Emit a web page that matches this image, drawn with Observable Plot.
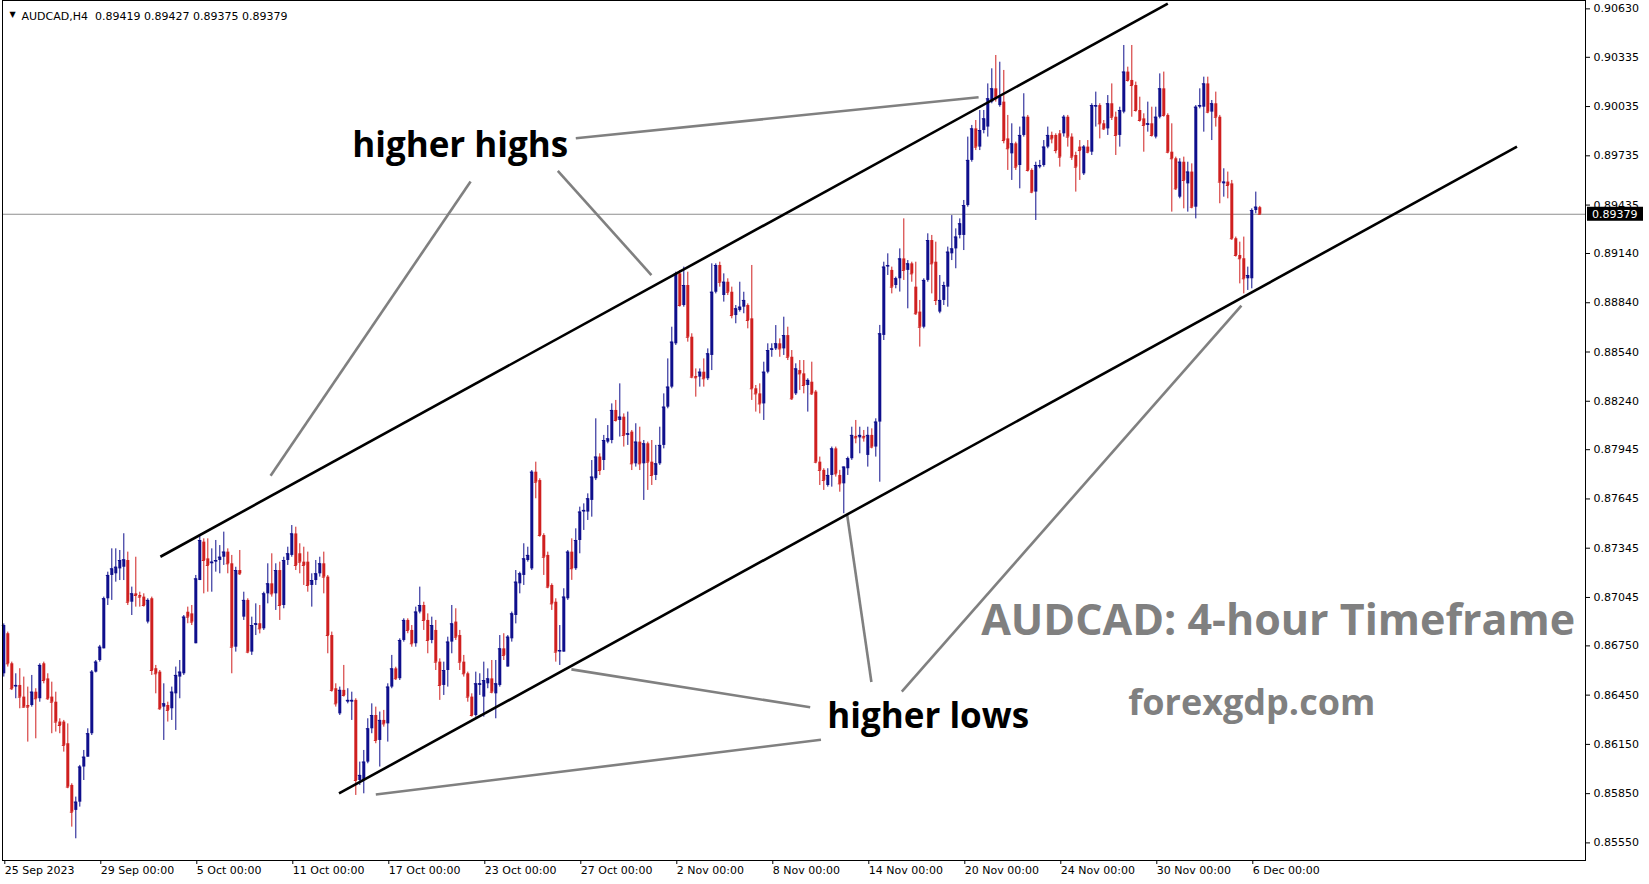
<!DOCTYPE html>
<html><head><meta charset="utf-8">
<script src="https://cdn.jsdelivr.net/npm/d3@7"></script>
<script src="https://cdn.jsdelivr.net/npm/@observablehq/plot@0.6"></script>
<style>html,body{margin:0;padding:0;background:#fff;overflow:hidden}</style>
</head><body><div id="chart"></div>
<script>
// ---- data: AUDCAD H4 candles (index 0 = 25 Sep 2023 00:00) ----
const openP = [
.86580,.86824,.86641,.86499,.86509,.86438,.86387,.86387,.86468,.86428,
.86641,.86549,.86438,.86407,.86286,.86286,.86154,.85900,.85748,.85798,
.86012,.86072,.86215,.86590,.86661,.86732,.87037,.87179,.87189,.87219,
.87229,.87270,.87016,.87067,.87057,.87047,.86895,.87037,.86611,.86590,
.86377,.86387,.86367,.86458,.86560,.86580,.86955,.86945,.86763,.87148,
.87382,.87280,.87250,.87260,.87270,.87290,.87321,.87250,.86742,.87209,
.86925,.87027,.86712,.86874,.86885,.86854,.87067,.87128,.87067,.87209,
.86996,.87270,.87301,.87432,.87311,.87260,.87260,.87118,.87148,.87189,
.87250,.87169,.86813,.86489,.86336,.86479,.86407,.86407,.86418,.85930,
.85930,.86042,.86245,.86326,.86174,.86296,.86275,.86499,.86610,.86550,
.86783,.86905,.86844,.86763,.86956,.86996,.86905,.86783,.86844,.86651,
.86509,.86600,.86773,.86895,.86813,.86651,.86580,.86438,.86326,.86509,
.86438,.86519,.86549,.86458,.86509,.86732,.86621,.86793,.86935,.87128,
.87179,.87270,.87219,.87808,.87757,.87422,.87301,.87118,.87016,.86712,
.86712,.87037,.87321,.87220,.87392,.87565,.87565,.87636,.87768,.87900,
.87879,.87991,.88001,.88184,.88123,.88143,.88032,.88052,.87859,.87991,
.87859,.87981,.87869,.87788,.87859,.87971,.88204,.88326,.88590,.89016,
.88823,.88945,.88630,.88391,.88387,.88417,.88377,.88519,.88904,.89067,
.88884,.88965,.88904,.88762,.88793,.88813,.88823,.88742,.88316,.88285,
.88224,.88417,.88549,.88559,.88590,.88559,.88640,.88508,.88285,.88427,
.88407,.88336,.88356,.88296,.87869,.87819,.87727,.87788,.87950,.87788,
.87737,.87829,.87890,.88026,.88017,.88026,.87910,.88032,.87961,.88113,
.88641,.89057,.89037,.88945,.88986,.89107,.89037,.89077,.88935,.88783,
.88691,.88976,.89219,.89087,.88783,.88854,.88935,.89138,.89168,.89250,
.89250,.89432,.89707,.89899,.89788,.89889,.89910,.90062,.90143,.90041,
.90062,.89838,.89747,.89808,.89676,.89859,.89970,.89646,.89514,.89666,
.89676,.89788,.89859,.89859,.89869,.89869,.89970,.89849,.89737,.89788,
.89625,.89788,.89757,.90031,.90041,.89930,.89899,.90052,.89970,.89859,
.90001,.90245,.90194,.90163,.90011,.89960,.89920,.89930,.89849,.89970,
.90143,.89981,.89757,.89717,.89483,.89696,.89564,.89636,.89422,.90031,
.90031,.90173,.90001,.90052,.89970,.89564,.89575,.89564,.89230,.89128,
.89108,.88986,.88986,.89402,.89419];
const highP = [
.86884,.86834,.86651,.86580,.86611,.86560,.86499,.86570,.86489,.86641,
.86651,.86580,.86529,.86468,.86306,.86296,.86275,.85910,.85829,.86022,
.86113,.86245,.86600,.86661,.86753,.87047,.87199,.87341,.87341,.87331,
.87433,.87321,.87108,.87290,.87077,.87067,.87037,.87047,.86631,.86600,
.86519,.86407,.86499,.86621,.86661,.86935,.86986,.86996,.87179,.87422,
.87402,.87402,.87341,.87392,.87361,.87443,.87341,.87301,.87229,.87331,
.87077,.87037,.86925,.87006,.86996,.87077,.87250,.87311,.87250,.87260,
.87290,.87351,.87483,.87473,.87372,.87351,.87321,.87189,.87270,.87290,
.87321,.87179,.86834,.86519,.86499,.86631,.86489,.86468,.86428,.86042,
.86113,.86306,.86397,.86377,.86347,.86357,.86519,.86692,.86620,.86793,
.86915,.86915,.86874,.86986,.87108,.87016,.86945,.86925,.86905,.86671,
.86651,.86803,.86996,.86976,.86844,.86692,.86590,.86458,.86590,.86580,
.86651,.86610,.86661,.86661,.86813,.86824,.86813,.86956,.87209,.87199,
.87372,.87351,.87818,.87869,.87768,.87433,.87321,.87128,.87037,.86874,
.87098,.87331,.87402,.87463,.87595,.87615,.87676,.87879,.88133,.87920,
.88032,.88092,.88224,.88245,.88346,.88163,.88174,.88062,.88103,.88082,
.88001,.87991,.88001,.87971,.88082,.88285,.88498,.88691,.89026,.89036,
.89057,.89026,.88651,.88437,.88437,.88498,.88559,.89077,.89077,.89087,
.89016,.88986,.88935,.88823,.88965,.88904,.88833,.89067,.88336,.88346,
.88478,.88590,.88590,.88701,.88620,.88752,.88691,.88549,.88468,.88488,
.88488,.88377,.88478,.88306,.87900,.87829,.87829,.87961,.87961,.87819,
.87839,.87900,.88082,.88123,.88082,.88062,.88082,.88072,.88133,.88702,
.89087,.89138,.89057,.88996,.89168,.89351,.89097,.89087,.89087,.88854,
.88986,.89260,.89250,.89209,.89006,.88965,.89179,.89371,.89290,.89351,
.89463,.89849,.89920,.89950,.90011,.90011,.90173,.90265,.90346,.90305,
.90255,.89981,.89930,.89818,.89910,.90113,.89981,.89656,.89696,.89707,
.89828,.89910,.89879,.89869,.89889,.89981,.89981,.89869,.89757,.89828,
.89798,.89828,.90052,.90123,.90052,.89950,.90102,.90173,.90001,.90031,
.90407,.90275,.90407,.90184,.90092,.89991,.90062,.90031,.90031,.90234,
.90245,.89991,.89930,.89727,.89717,.89727,.89696,.89686,.90041,.90143,
.90214,.90214,.90072,.90123,.89981,.89656,.89636,.89585,.89240,.89209,
.89240,.89057,.89412,.89514,.89427];
const lowP = [
.86560,.86621,.86478,.86428,.86367,.86370,.86164,.86377,.86184,.86407,
.86519,.86418,.86215,.86225,.86215,.86103,.85880,.85646,.85575,.85768,
.85930,.86072,.86204,.86585,.86651,.86732,.86996,.87027,.87138,.87148,
.87148,.86996,.86935,.86986,.86986,.86986,.86884,.86570,.86458,.86357,
.86174,.86286,.86296,.86235,.86428,.86570,.86885,.86874,.86763,.87148,
.87067,.87077,.87077,.87199,.87189,.87240,.87189,.86580,.86712,.87179,
.86905,.86702,.86692,.86813,.86823,.86844,.87006,.87047,.86966,.86905,
.86976,.87240,.87290,.87209,.87189,.87118,.87077,.86986,.87118,.87169,
.87067,.86702,.86468,.86377,.86326,.86438,.86397,.86296,.85839,.85900,
.85849,.86032,.86215,.86154,.86012,.86255,.86164,.86489,.86539,.86539,
.86773,.86824,.86742,.86742,.86945,.86844,.86702,.86763,.86600,.86418,
.86448,.86499,.86702,.86783,.86600,.86560,.86407,.86316,.86316,.86448,
.86316,.86489,.86458,.86306,.86499,.86661,.86621,.86773,.86884,.87067,
.87118,.87260,.87209,.87646,.87412,.87179,.87098,.86966,.86651,.86631,
.86712,.87027,.87149,.87210,.87311,.87453,.87514,.87534,.87757,.87788,
.87818,.87981,.87981,.88113,.88022,.87961,.87971,.87818,.87839,.87818,
.87636,.87697,.87727,.87757,.87849,.87950,.88194,.88316,.88580,.88813,
.88813,.88600,.88377,.88265,.88326,.88326,.88366,.88427,.88894,.88935,
.88844,.88884,.88742,.88712,.88783,.88773,.88681,.88245,.88174,.88163,
.88123,.88407,.88508,.88549,.88508,.88519,.88488,.88245,.88275,.88306,
.88285,.88174,.88275,.87859,.87727,.87697,.87717,.87717,.87778,.87686,
.87555,.87788,.87880,.87981,.87920,.87991,.87839,.87950,.87900,.87747,
.88610,.89006,.88894,.88925,.88905,.88976,.88803,.88965,.88763,.88570,
.88681,.88965,.88894,.88823,.88773,.88823,.88813,.89097,.89047,.89229,
.89158,.89422,.89696,.89767,.89767,.89869,.89849,.90052,.90062,.90031,
.89808,.89646,.89585,.89646,.89534,.89849,.89636,.89504,.89341,.89656,
.89666,.89778,.89808,.89747,.89666,.89849,.89788,.89707,.89514,.89585,
.89615,.89747,.89737,.89910,.89838,.89889,.89859,.89950,.89737,.89788,
.89991,.90184,.89970,.90001,.89940,.89757,.89879,.89849,.89838,.89960,
.89970,.89747,.89392,.89524,.89473,.89412,.89392,.89412,.89351,.90021,
.89879,.89991,.89828,.89910,.89443,.89483,.89473,.89220,.89118,.88955,
.88894,.88915,.88925,.89382,.89375];
const closeP = [
.86874,.86641,.86489,.86509,.86438,.86377,.86377,.86468,.86428,.86631,
.86539,.86428,.86407,.86286,.86265,.86144,.85890,.85737,.85798,.86012,
.86072,.86215,.86590,.86651,.86742,.87037,.87179,.87219,.87229,.87270,
.87274,.87016,.87067,.87057,.87047,.86996,.87027,.86600,.86580,.86367,
.86397,.86357,.86468,.86570,.86590,.86925,.86925,.86895,.87158,.87392,
.87270,.87240,.87260,.87270,.87290,.87321,.87250,.86742,.87209,.87189,
.87027,.86712,.86874,.86885,.86854,.87067,.87128,.87067,.87209,.86996,
.87270,.87311,.87432,.87240,.87260,.87240,.87118,.87148,.87189,.87250,
.87169,.86813,.86479,.86397,.86479,.86448,.86418,.86418,.85930,.85961,
.86042,.86245,.86326,.86174,.86296,.86275,.86499,.86610,.86550,.86783,
.86905,.86844,.86763,.86956,.86996,.86905,.86783,.86874,.86651,.86509,
.86600,.86773,.86884,.86803,.86651,.86580,.86438,.86326,.86519,.86519,
.86539,.86549,.86468,.86519,.86732,.86692,.86803,.86945,.87138,.87189,
.87280,.87301,.87808,.87747,.87422,.87290,.87108,.87006,.86712,.86722,
.87047,.87321,.87220,.87392,.87565,.87575,.87646,.87778,.87900,.87818,
.88001,.88011,.88184,.88123,.88143,.88032,.88042,.87859,.87991,.87859,
.87981,.87869,.87788,.87859,.87971,.88204,.88326,.88600,.89016,.88823,
.88945,.88630,.88387,.88383,.88417,.88377,.88529,.88904,.89067,.88965,
.88965,.88904,.88762,.88803,.88813,.88854,.88732,.88316,.88285,.88224,
.88417,.88549,.88559,.88590,.88559,.88640,.88508,.88255,.88437,.88407,
.88336,.88367,.88285,.87869,.87819,.87758,.87788,.87950,.87798,.87737,
.87839,.87890,.88032,.88017,.88032,.88017,.88032,.87961,.88113,.88651,
.89057,.89067,.88935,.88986,.89107,.89037,.89077,.89016,.88773,.88691,
.88976,.89219,.89077,.88854,.88854,.88945,.89148,.89168,.89240,.89321,
.89432,.89707,.89899,.89788,.89889,.89960,.90082,.90143,.90082,.90092,
.89828,.89778,.89808,.89666,.89859,.89970,.89646,.89514,.89676,.89676,
.89788,.89859,.89838,.89767,.89727,.89970,.89849,.89727,.89666,.89767,
.89788,.89757,.90041,.90041,.89930,.89899,.90052,.89970,.89859,.90011,
.90245,.90194,.90163,.90011,.89950,.89920,.89930,.89859,.89970,.90143,
.89981,.89757,.89717,.89534,.89696,.89585,.89636,.89422,.90031,.90041,
.90173,.90001,.90052,.89970,.89575,.89575,.89554,.89230,.89128,.89108,
.88986,.89006,.89402,.89422,.89379];

const dateTickIndex = [0,24,48,72,96,120,144,168,192,216,240,264,288,312];
const dateTickLabels = ["25 Sep 2023","29 Sep 00:00","5 Oct 00:00","11 Oct 00:00","17 Oct 00:00","23 Oct 00:00","27 Oct 00:00","2 Nov 00:00","8 Nov 00:00","14 Nov 00:00","20 Nov 00:00","24 Nov 00:00","30 Nov 00:00","6 Dec 00:00"];
const priceTicks = [0.90630,0.90335,0.90035,0.89735,0.89435,0.89140,0.88840,0.88540,0.88240,0.87945,0.87645,0.87345,0.87045,0.86750,0.86450,0.86150,0.85850,0.85550];
const lastPrice = 0.89379;
const headerText = "AUDCAD,H4\u00a0 0.89419 0.89427 0.89375 0.89379";

// channel lines (candle index, price)
const channelX1 = [39.15, 83.8];
const channelY1 = [0.87293, 0.85851];
const channelX2 = [291.0, 378.3];
const channelY2 = [0.90662, 0.89791];

// grey pointer lines
const pointerX1 = [143.0, 116.7, 138.5, 141.9, 93.0, 210.8, 309.4];
const pointerY1 = [0.89842, 0.89579, 0.89643, 0.86607, 0.85845, 0.87555, 0.88823];
const pointerX2 = [243.7, 66.7, 161.9, 201.6, 204.3, 216.9, 224.5];
const pointerY2 = [0.90092, 0.87786, 0.89009, 0.86376, 0.86178, 0.86530, 0.86472];

// annotations
const annotText = ["higher highs", "higher lows", "AUDCAD: 4-hour Timeframe", "forexgdp.com"];
const annotX = [114.1, 231.1, 318.6, 312.0];
const annotY = [0.89797, 0.86319, 0.86902, 0.86402];
const annotColor = ["#000000", "#000000", "#808080", "#808080"];
const annotSize = [35, 35, 43, 36];

// ---- build ----
const BULL = "#0f0f8c", BEAR = "#cf1f1f";
const candles = openP.map((o, k) => ({i: k, o, h: highP[k], l: lowP[k], c: closeP[k]}));
const col = d => d.c >= d.o ? BULL : BEAR;
const channels = channelX1.map((x, k) => ({x1: x, y1: channelY1[k], x2: channelX2[k], y2: channelY2[k]}));
const pointers = pointerX1.map((x, k) => ({x1: x, y1: pointerY1[k], x2: pointerX2[k], y2: pointerY2[k]}));
const annots = annotText.map((t, k) => ({t, x: annotX[k], y: annotY[k], c: annotColor[k], s: annotSize[k]}));
const labelOf = new Map(dateTickIndex.map((d, k) => [d, dateTickLabels[k]]));

const plot = Plot.plot({
  width: 1649, height: 884,
  marginLeft: 2, marginRight: 64, marginTop: 0, marginBottom: 24,
  style: {fontFamily: "DejaVu Sans", fontSize: "11px", background: "#fff", color: "#000"},
  x: {domain: [-0.325, 395.425], axis: null},
  y: {domain: [0.854428, 0.906810], axis: null},
  color: {type: "identity"},
  marks: [
    Plot.ruleY([lastPrice], {stroke: "#8e8e8e", strokeWidth: 1}),
    Plot.ruleX(candles, {x: "i", y1: "l", y2: "h", stroke: col, strokeWidth: 1}),
    Plot.ruleX(candles, {x: "i", y1: "o", y2: "c", stroke: col, strokeWidth: 3}),
    Plot.ruleY(candles, {y: "c", x1: d => d.i - 0.375, x2: d => d.i + 0.375, stroke: col, strokeWidth: 1}),
    Plot.link(pointers, {x1: "x1", y1: "y1", x2: "x2", y2: "y2", stroke: "#808080", strokeWidth: 2.6, clip: true}),
    Plot.link(channels, {x1: "x1", y1: "y1", x2: "x2", y2: "y2", stroke: "#000", strokeWidth: 2.6, clip: true}),
    Plot.text(annots, {x: "x", y: "y", text: "t", fill: "c", fontSize: "s", fontWeight: "bold", fontFamily: "Open Sans"}),
    Plot.frame({stroke: "#000"}),
    Plot.axisY({anchor: "right", ticks: priceTicks, tickFormat: d => d.toFixed(5), tickSize: 4, tickPadding: 4, label: null}),
    Plot.axisX({anchor: "bottom", ticks: dateTickIndex, tickFormat: d => labelOf.get(d), tickSize: 4, tickPadding: 2, textAnchor: "start", dx: 1, label: null}),
    Plot.text([headerText], {frameAnchor: "top-left", dx: 19, dy: 12, textAnchor: "start", fill: "#000"}),
    Plot.text(["\u25BC"], {frameAnchor: "top-left", dx: 7, dy: 11, fontSize: 8, fill: "#000"})
  ]
});

// last price marker on the price scale
const yLast = plot.scale("y").apply(lastPrice);
const svg = d3.select(plot);
const g = svg.append("g").attr("text-anchor", "start");
g.append("rect").attr("x", 1587).attr("y", yLast - 7).attr("width", 56).attr("height", 14).attr("fill", "#000");
g.append("text").attr("x", 1592).attr("y", yLast).attr("dy", "0.35em").attr("fill", "#fff")
  .attr("text-anchor", "start")
  .attr("font-family", "DejaVu Sans").attr("font-size", 11).text(lastPrice.toFixed(5));

document.getElementById("chart").append(plot);
</script>
</body></html>
